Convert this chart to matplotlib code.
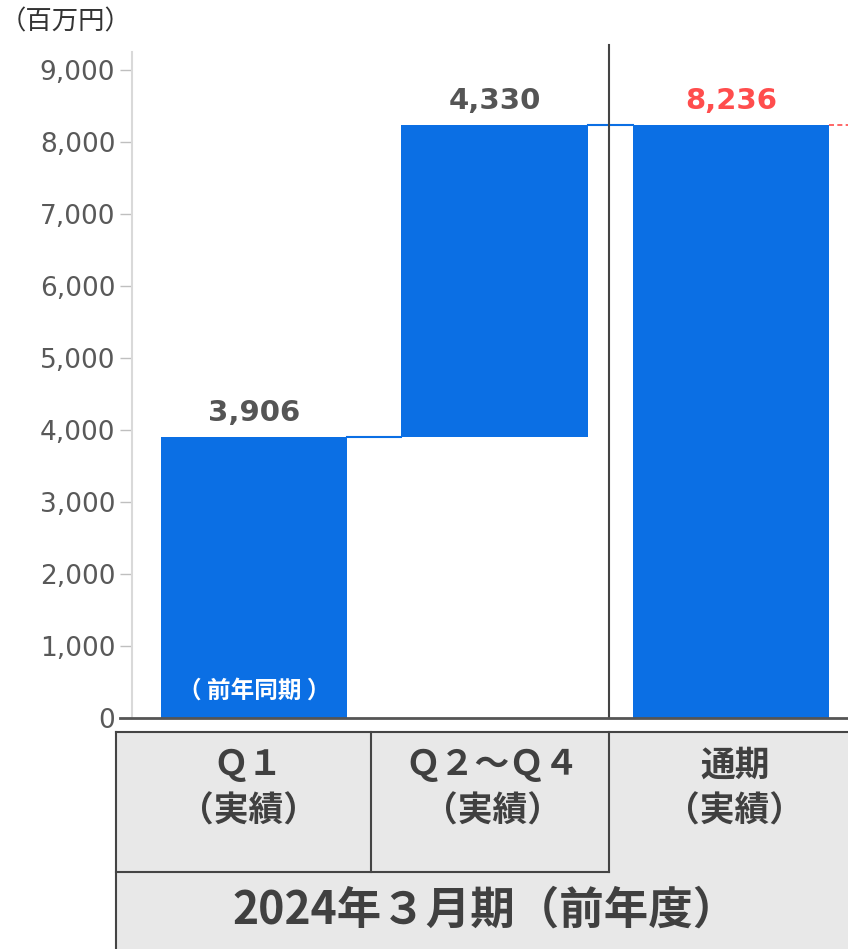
import matplotlib
matplotlib.use("Agg")
import matplotlib.pyplot as plt
from matplotlib.patches import Rectangle

plt.rcParams['font.family'] = ['DejaVu Sans', 'Noto Sans CJK JP']

# data
categories = ["Ｑ１", "Ｑ２～Ｑ４", "通期"]
sublabels = ["（実績）", "（実績）", "（実績）"]
values = [3906, 4330, 8236]
value_labels = ["3,906", "4,330", "8,236"]
yticks = [0, 1000, 2000, 3000, 4000, 5000, 6000, 7000, 8000, 9000]
period_label = "2024年３月期（前年度）"
unit_label = "（百万円）"
note_label = "（ 前年同期 ）"

blue = "#0b6fe4"
red = "#ff4d4d"
label_gray = "#555555"
tick_gray = "#595959"
text_dark = "#404040"
line_dark = "#444444"

W, H = 848, 949
fig = plt.figure(figsize=(W / 100, H / 100), dpi=100)

# main chart axes (pixel layout)
ax_l, ax_r, ax_t, ax_b = 132, 848, 52, 718
ax = fig.add_axes([ax_l / W, 1 - ax_b / H, (ax_r - ax_l) / W, (ax_b - ax_t) / H])

x = [0, 1.01, 2]
widths = [0.78, 0.785, 0.822]
bottoms = [0, values[0], 0]
ax.bar(x, values, width=widths, bottom=bottoms, color=blue, zorder=2)
xmax = 2.492
ax.set_xlim(-0.513, xmax)
ax.set_ylim(0, 9250)

# connectors
ax.plot([x[0] + widths[0] / 2, x[1] - widths[1] / 2], [values[0], values[0]], color=blue, lw=1.5, zorder=2)
top2 = values[0] + values[1]
ax.plot([x[1] + widths[1] / 2, x[2] - widths[2] / 2], [top2, top2], color=blue, lw=1.5, zorder=2)
ax.plot([x[2] + widths[2] / 2, xmax], [values[2], values[2]], color=red, lw=1.2, ls=(0, (3, 2)),
        zorder=2, clip_on=False)

# value labels
tops = [values[0], top2, values[2]]
for i in range(3):
    ax.annotate(value_labels[i], (x[i], tops[i]), xytext=(0, 7), textcoords="offset points",
                ha="center", va="bottom", fontsize=21, fontweight="bold",
                color=red if i == 2 else label_gray)

ax.annotate(note_label, (x[0], 0), xytext=(0, 20), textcoords="offset points",
            ha="center", va="center", fontsize=17, fontweight="bold", color="white",
            family=['Noto Sans CJK JP'])

# divider between quarters and full year
ax.axvline(1.49, color=line_dark, lw=1.5, ymin=0, ymax=1.011, zorder=3, clip_on=False)

# axes styling
ax.set_yticks(yticks)
ax.set_yticklabels([f"{v:,}" for v in yticks])
ax.tick_params(axis="y", colors="#bfbfbf", labelcolor=tick_gray, labelsize=19, length=9, width=1, pad=3)
ax.tick_params(axis="x", bottom=False, labelbottom=False)
for s in ["top", "right", "bottom"]:
    ax.spines[s].set_visible(False)
ax.spines["left"].set_color("#d9d9d9")
ax.spines["left"].set_linewidth(1.5)

# baseline
fig.add_artist(plt.Line2D([120 / W, 1], [1 - 718 / H, 1 - 718 / H], color="#555555", lw=2))

fig.text(0, 1 - 22 / H, unit_label, fontsize=19, color="#333333", ha="left", va="center",
         family=['Noto Sans CJK JP'])

# table below the chart
tb = fig.add_axes([0, 0, 1, 1])
tb.set_xlim(0, W)
tb.set_ylim(H, 0)
tb.axis("off")
tb.patch.set_alpha(0)

grey = "#e8e8e8"
row_top, row_mid, row_bot = 732, 872, 949
tb.add_patch(Rectangle((116, row_top), 848 - 116, row_bot - row_top, facecolor=grey, edgecolor="none"))
tb.plot([116, 848], [row_top, row_top], color=line_dark, lw=1.5)
tb.plot([116, 116], [row_top, row_bot], color=line_dark, lw=1.5)
tb.plot([116, 609], [row_mid, row_mid], color=line_dark, lw=1.5)
tb.plot([371, 371], [row_top, row_mid], color=line_dark, lw=1.5)
tb.plot([609, 609], [row_top, row_mid], color=line_dark, lw=1.5)

centers = [248, 492, 735]
for c, lab, sub in zip(centers, categories, sublabels):
    tb.text(c, 765, lab, ha="center", va="center", fontsize=25, fontweight="bold",
            color=text_dark, family=['Noto Sans CJK JP'])
    tb.text(c, 811, sub, ha="center", va="center", fontsize=25, fontweight="bold",
            color=text_dark, family=['Noto Sans CJK JP'])
tb.text(485, 911, period_label, ha="center", va="center", fontsize=32, fontweight="bold",
        color=text_dark, family=['Noto Sans CJK JP'])

fig.savefig("out.png", dpi=100)
